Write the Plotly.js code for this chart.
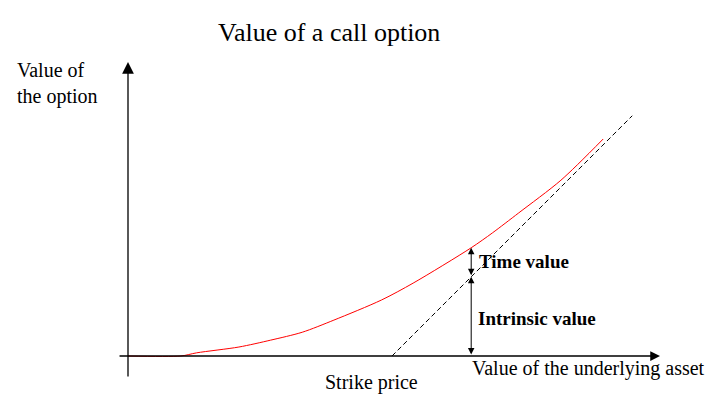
<!DOCTYPE html>
<html>
<head>
<meta charset="utf-8">
<script src="https://cdn.plot.ly/plotly-3.0.1.min.js"></script>
<style>html,body{margin:0;padding:0;background:#fff;}#chart{width:719px;height:419px;}</style>
</head>
<body>
<div id="chart"></div>
<script>
// Value of the underlying asset (arbitrary units, strike = 50)
const assetValue = [0, 10, 13, 21, 27, 33, 39, 48, 54, 65, 69, 74, 82, 90];
// Value of the call option at those asset values
const callValue  = [0, 0, 0.6, 1.7, 3.0, 4.5, 6.8, 10.6, 13.8, 20.5, 23.3, 27.1, 33.3, 41.1];
const strikePrice = 50;
const intrinsicEndAsset = 95.5;
const markerAsset = 65;

const titleText = 'Value of a call option';
const yLabel = 'Value of<br>the option';
const xLabel = 'Value of the underlying asset';
const strikeLabel = 'Strike price';
const timeLabel = 'Time value';
const intrinsicLabel = 'Intrinsic value';

const intrinsicX = [strikePrice, intrinsicEndAsset];
const intrinsicY = intrinsicX.map(v => Math.max(0, v - strikePrice));

const mi = assetValue.indexOf(markerAsset);
const mCall = callValue[mi];
const mIntr = Math.max(0, markerAsset - strikePrice);

const serif = 'Liberation Serif, Times New Roman, serif';

const traces = [
  {x: assetValue, y: callValue, mode: 'lines', line: {color: '#ff0000', width: 1, shape: 'spline', smoothing: 0.8}, hoverinfo: 'skip'},
  {x: intrinsicX, y: intrinsicY, mode: 'lines', line: {color: '#000', width: 1, dash: '5px,3px'}, hoverinfo: 'skip'}
];

function arrow(x, y, ax, ay, opts) {
  return Object.assign({x: x, y: y, ax: ax, ay: ay, xref: 'x', yref: 'y', axref: 'x', ayref: 'y',
    text: '', showarrow: true, arrowcolor: '#000', standoff: 0, startstandoff: 0}, opts);
}
function label(px, py, text, opts) {
  return Object.assign({xref: 'paper', yref: 'paper', x: px / 719, y: 1 - py / 419, text: text,
    showarrow: false, font: {family: serif, size: 20, color: '#000'}}, opts);
}

const annotations = [
  // axes
  arrow(0, 55.68, 0, -4.17, {arrowhead: 2, arrowwidth: 1.3, arrowsize: 1.8}),
  arrow(100.76, 0, -1.89, 0, {arrowhead: 2, arrowwidth: 1.3, arrowsize: 1.5}),
  // time value arrow
  arrow(markerAsset, mCall, markerAsset, mIntr, {arrowside: 'end+start', arrowhead: 2, startarrowhead: 2, arrowwidth: 1, arrowsize: 1.3, startarrowsize: 1.3}),
  // intrinsic value arrow
  arrow(markerAsset, mIntr, markerAsset, 0, {arrowside: 'end+start', arrowhead: 2, startarrowhead: 2, arrowwidth: 1, arrowsize: 1.3, startarrowsize: 1.3}),
  // texts
  label(329, 33, titleText, {font: {family: serif, size: 26, color: '#000'}, xanchor: 'center', yanchor: 'middle'}),
  label(15, 84, yLabel, {xanchor: 'left', yanchor: 'middle', align: 'left'}),
  label(371.5, 382, strikeLabel, {xanchor: 'center', yanchor: 'middle'}),
  label(470, 368, xLabel, {xanchor: 'left', yanchor: 'middle'}),
  label(477, 261, '<b>' + timeLabel + '</b>', {xanchor: 'left', yanchor: 'middle', font: {family: serif, size: 19, color: '#000'}}),
  label(476, 318, '<b>' + intrinsicLabel + '</b>', {xanchor: 'left', yanchor: 'middle', font: {family: serif, size: 19, color: '#000'}})
];

const layout = {
  width: 719, height: 419, autosize: false,
  margin: {l: 0, r: 0, t: 0, b: 0, pad: 0},
  paper_bgcolor: '#fff', plot_bgcolor: '#fff',
  showlegend: false,
  xaxis: {visible: false, range: [-128 / 5.28, (719 - 128) / 5.28], fixedrange: true},
  yaxis: {visible: false, range: [-63 / 5.28, 356 / 5.28], fixedrange: true},
  annotations: annotations
};

Plotly.newPlot('chart', traces, layout, {staticPlot: true, displayModeBar: false});
</script>
</body>
</html>
